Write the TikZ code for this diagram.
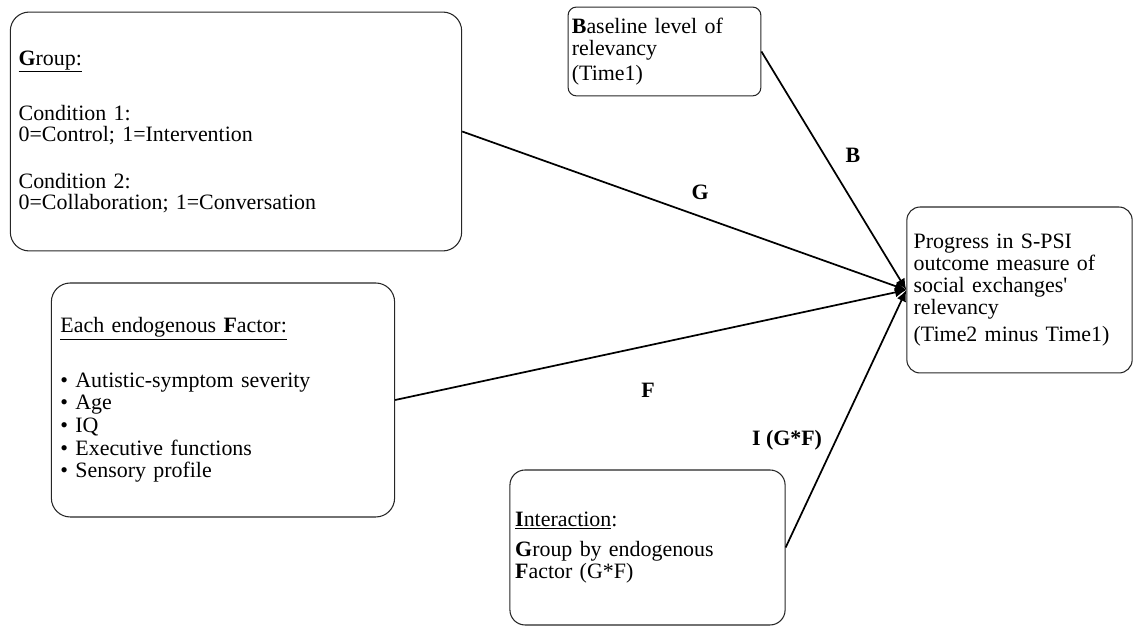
\documentclass[tikz,border=0pt]{standalone}
\usepackage{fontspec}
\setmainfont{Liberation Serif}
\usetikzlibrary{arrows.meta,positioning,calc}
\tikzstyle{box} = [draw=black!85, line width=0.8pt, align=left, font=\fontsize{16.5}{16.5}\selectfont]
\tikzstyle{arrow} = [line width=1.3pt,-{Latex[length=3mm,width=2.6mm]}]
\tikzstyle{coef} = [font=\fontsize{16.5}{16.5}\selectfont\bfseries]

\begin{document}
\begin{tikzpicture}
\useasboundingbox (0,0) rectangle (30,16.587);
% boxes
\node (group) [box, rounded corners=0.5cm, text width=11.5cm, inner xsep=0.22cm, minimum height=6.32cm,
  font=\fontsize{16.5}{15.5}\selectfont] at (6.243,13.108)
  {\underline{\textbf{G}roup:}\\[24pt]
   Condition 1:\\ 0=Control; 1=Intervention\\[20pt]
   Condition 2:\\ 0=Collaboration; 1=Conversation};
\node (baseline) [box, rounded corners=0.22cm, text width=4.9cm, inner xsep=0.1cm, minimum height=2.35cm] at (17.579,15.225)
  {\textbf{B}aseline level of\\ relevancy\\[2pt] (Time1)};
\node (outcome) [box, rounded corners=0.35cm, text width=5.6cm, inner xsep=0.18cm, minimum height=4.39cm] at (26.971,8.915)
  {Progress in S-PSI\\ outcome measure of\\ social exchanges\textquotesingle\\ relevancy\\[4pt] (Time2 minus Time1)};
\node (factor) [box, rounded corners=0.5cm, text width=8.6cm, inner xsep=0.24cm, minimum height=6.19cm,
  font=\fontsize{16.5}{17}\selectfont] at (5.899,6.005)
  {\underline{Each endogenous \textbf{F}actor:}\\[24pt]
   \textbullet\ Autistic-symptom severity\\ \textbullet\ Age\\ \textbullet\ IQ\\
   \textbullet\ Executive functions\\ \textbullet\ Sensory profile};
\node (interact) [box, rounded corners=0.4cm, text width=7.0cm, inner xsep=0.14cm, minimum height=4.1cm] at (17.130,2.103)
  {\underline{\textbf{I}nteraction}:\\[6pt] \textbf{G}roup by endogenous\\ \textbf{F}actor (G*F)};
% paths
\draw[arrow] (baseline.east) -- (outcome.west);
\draw[arrow] (group.east) -- (outcome.west);
\draw[arrow] (factor.east) -- (outcome.west);
\draw[arrow] (interact.east) -- (outcome.west);
% path labels
\node (lB) [coef] at (22.566,12.486) {B};
\node (lG) [coef] at (18.519,11.508) {G};
\node (lF) [coef] at (17.143,6.270) {F};
\node (lI) [coef] at (20.820,4.947) {I (G*F)};
\end{tikzpicture}
\end{document}
